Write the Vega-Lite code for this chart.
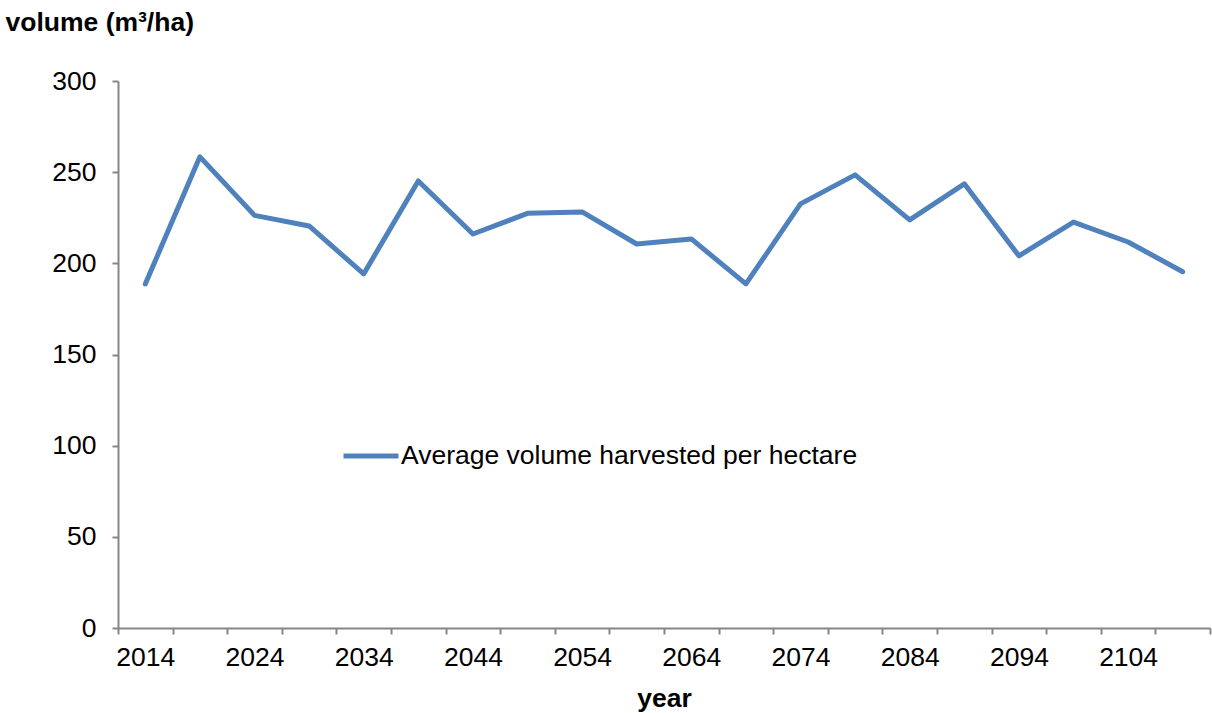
{
  "$schema": "https://vega.github.io/schema/vega-lite/v6.json",
  "autosize": "none",
  "width": 1092,
  "height": 547,
  "padding": {"left": 118, "top": 81, "right": 2, "bottom": 85},
  "background": "white",
  "config": {
    "view": {"stroke": null},
    "font": "Liberation Sans",
    "axis": {"labelFont": "Liberation Sans", "titleFont": "Liberation Sans", "labelColor": "#000000", "titleColor": "#000000"}
  },
  "data": {
    "values": [
      {"year": 2014, "volume": 188.7},
      {"year": 2019, "volume": 258.4},
      {"year": 2024, "volume": 226.3},
      {"year": 2029, "volume": 220.5},
      {"year": 2034, "volume": 194.2},
      {"year": 2039, "volume": 245.2},
      {"year": 2044, "volume": 216.1},
      {"year": 2049, "volume": 227.4},
      {"year": 2054, "volume": 228.2},
      {"year": 2059, "volume": 210.6},
      {"year": 2064, "volume": 213.4},
      {"year": 2069, "volume": 188.7},
      {"year": 2074, "volume": 232.6},
      {"year": 2079, "volume": 248.5},
      {"year": 2084, "volume": 223.8},
      {"year": 2089, "volume": 243.6},
      {"year": 2094, "volume": 204.1},
      {"year": 2099, "volume": 222.6},
      {"year": 2104, "volume": 211.7},
      {"year": 2109, "volume": 195.4}
    ]
  },
  "mark": {"type": "line", "strokeWidth": 5, "strokeJoin": "round", "strokeCap": "round"},
  "encoding": {
    "x": {
      "field": "year",
      "type": "quantitative",
      "scale": {"domain": [2011.5, 2111.5], "nice": false, "zero": false},
      "axis": {
        "values": [2011.5, 2016.5, 2021.5, 2026.5, 2031.5, 2036.5, 2041.5, 2046.5, 2051.5, 2056.5, 2061.5, 2066.5, 2071.5, 2076.5, 2081.5, 2086.5, 2091.5, 2096.5, 2101.5, 2106.5, 2111.5],
        "labelExpr": "((datum.value - 2011.5) % 10 == 0 && datum.value < 2110) ? format(datum.value + 2.5, 'd') : ''",
        "labelOffset": 27.3,
        "labelOverlap": false,
        "labelFlush": false,
        "labelBound": false,
        "labelFontSize": 26.5,
        "labelPadding": 10,
        "tickSize": 6,
        "tickWidth": 2,
        "tickColor": "#868686",
        "domainColor": "#868686",
        "domainWidth": 2,
        "grid": false,
        "title": "year",
        "titleFontSize": 26.5,
        "titleFontWeight": "bold",
        "titleBaseline": "middle",
        "titleY": 70,
        "titleX": 546
      }
    },
    "y": {
      "field": "volume",
      "type": "quantitative",
      "scale": {"domain": [0, 300], "nice": false},
      "axis": {
        "values": [0, 50, 100, 150, 200, 250, 300],
        "labelFontSize": 26.5,
        "labelPadding": 16,
        "tickSize": 6,
        "tickWidth": 2,
        "tickColor": "#868686",
        "domainColor": "#868686",
        "domainWidth": 2,
        "grid": false,
        "labelFlush": false,
        "title": "volume (m³/ha)",
        "titleFontSize": 26.5,
        "titleFontWeight": "bold",
        "titleAngle": 0,
        "titleAlign": "left",
        "titleBaseline": "middle",
        "titleX": -113,
        "titleY": -59
      }
    },
    "color": {
      "datum": "Average volume harvested per hectare",
      "type": "nominal",
      "scale": {"range": ["#4F81BD"]},
      "legend": {
        "title": null,
        "orient": "none",
        "legendX": 223,
        "legendY": 345,
        "symbolType": "stroke",
        "symbolSize": 3025,
        "symbolStrokeWidth": 5,
        "labelFontSize": 26.5,
        "labelFont": "Liberation Sans",
        "labelColor": "#000000",
        "labelOffset": 0,
        "labelLimit": 800,
        "padding": 0
      }
    }
  }
}
